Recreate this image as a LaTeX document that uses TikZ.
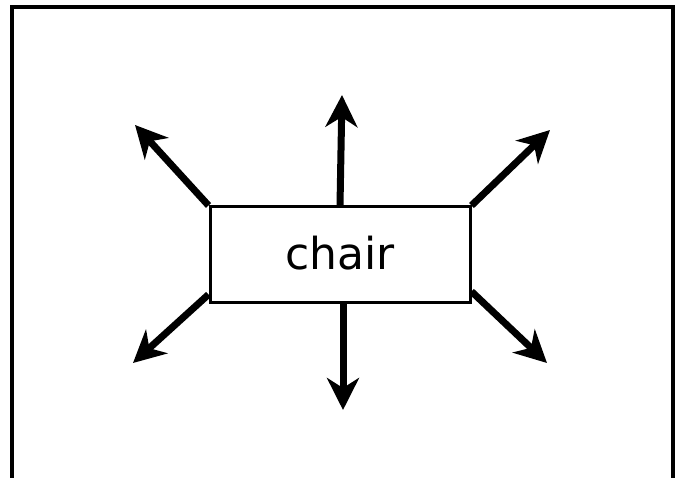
\documentclass[tikz,border=0pt]{standalone}
\usepackage{fontspec}
\setmainfont{DejaVu Sans}
\usetikzlibrary{arrows.meta}
\begin{document}
\begin{tikzpicture}[x=1pt,y=-1pt,
  frame/.style={draw=black,line width=4.5pt},
  boxnode/.style={draw=black,line width=3pt,minimum width=260pt,minimum height=96pt,inner sep=0pt,font=\fontsize{44}{50}\selectfont},
  arr/.style={line width=7pt,-{Stealth[length=32pt,width=32pt,inset=10pt]}}]
\useasboundingbox (0,0) rectangle (683,478);
\draw[frame] (12,7) rectangle (673,481);
\node[boxnode] (box) at (340,255) {\raisebox{4pt}{chair}};
\coordinate (tul) at (135,125);
\coordinate (tu) at (342,95);
\coordinate (tur) at (550,130);
\coordinate (tdl) at (133,363);
\coordinate (td) at (343,410);
\coordinate (tdr) at (547,363);
\draw[arr] (box.north west) -- (tul);
\draw[arr] (box.north) -- (tu);
\draw[arr] (box.north east) -- (tur);
\draw[arr] ([yshift=10pt]box.south west) -- (tdl);
\draw[arr] ([xshift=3pt]box.south) -- (td);
\draw[arr] ([yshift=13pt]box.south east) -- (tdr);
\end{tikzpicture}
\end{document}
